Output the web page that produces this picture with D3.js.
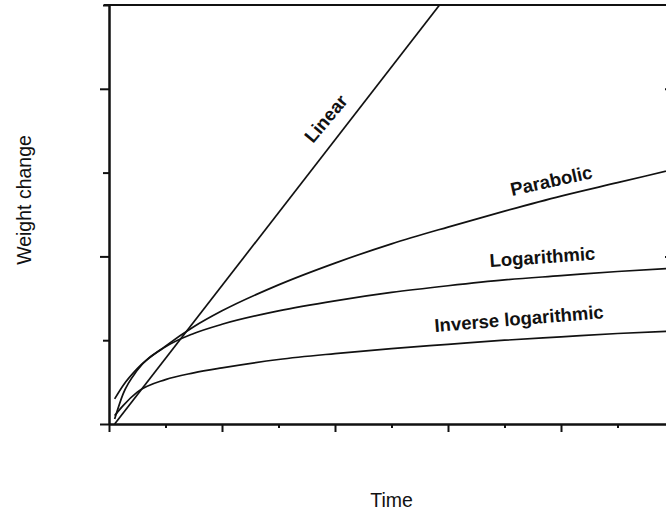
<!DOCTYPE html>
<html>
<head>
<meta charset="utf-8">
<script src="https://cdn.jsdelivr.net/npm/d3@7"></script>
<style>
  body { margin: 0; background: #fff; }
  .axis path, .axis line { stroke: #111; stroke-width: 2; }
  .curve { fill: none; stroke: #111; stroke-width: 1.7; }
  .curve-label { font-family: "Liberation Sans", Arial, sans-serif; font-weight: bold; font-size: 18.5px; fill: #111; }
  .axis-title { font-family: "Liberation Sans", Arial, sans-serif; font-size: 19.5px; fill: #111; }
</style>
</head>
<body>
<div id="chart"></div>
<script>
// Time points (x) shared by the curved series
const times = [0.1, 0.25, 0.5, 1, 1.5, 2, 3, 4, 5, 6, 7, 8, 9, 10];

// Weight change values
const parabolic = [0.30, 0.46, 0.66, 0.93, 1.16, 1.35, 1.66, 1.92, 2.15, 2.35, 2.54, 2.72, 2.88, 3.04];
const logarithmic = [0.06, 0.36, 0.64, 0.92, 1.08, 1.19, 1.35, 1.47, 1.57, 1.65, 1.72, 1.77, 1.82, 1.86];
const inverseLog = [0.10, 0.22, 0.38, 0.53, 0.61, 0.67, 0.77, 0.84, 0.90, 0.95, 1.00, 1.04, 1.08, 1.11];

// The straight line only needs its two ends
const linearTimes = [0.1, 7];
const linear = [0.0, 6.0];

// Tick values (no tick labels in the original)
const xMajorTicks = [0, 2, 4, 6, 8, 10];
const xMinorTicks = [1, 3, 5, 7, 9];
const yMajorTicks = [0, 2, 4];
const yMinorTicks = [1, 3, 5];

const width = 666;
const height = 514;
const margin = { top: 5, right: -8, bottom: 90, left: 109 };

const svg = d3.select('#chart')
  .append('svg')
  .attr('width', width)
  .attr('height', height);

const x = d3.scaleLinear()
  .domain([0, 10])
  .range([margin.left, width - margin.right]);

const y = d3.scaleLinear()
  .domain([0, 5])
  .range([height - margin.bottom, margin.top]);

// Clip curves to the plot box
svg.append('clipPath')
  .attr('id', 'plot-clip')
  .append('rect')
  .attr('x', x(0))
  .attr('y', y(5))
  .attr('width', x(10) - x(0))
  .attr('height', y(0) - y(5));

// Top border of the frame
svg.append('line')
  .attr('x1', x(0) - 5)
  .attr('x2', x(10))
  .attr('y1', y(5))
  .attr('y2', y(5))
  .attr('stroke', '#111')
  .attr('stroke-width', 2);

// Bottom axis: major then minor ticks
svg.append('g')
  .attr('class', 'axis')
  .attr('transform', `translate(0,${y(0)})`)
  .call(d3.axisBottom(x).tickValues(xMajorTicks).tickSize(8).tickSizeOuter(0).tickFormat(''));
svg.append('g')
  .attr('class', 'axis')
  .attr('transform', `translate(0,${y(0)})`)
  .call(d3.axisBottom(x).tickValues(xMinorTicks).tickSize(4).tickSizeOuter(0).tickFormat(''));

// Left axis
svg.append('g')
  .attr('class', 'axis')
  .attr('transform', `translate(${x(0)},0)`)
  .call(d3.axisLeft(y).tickValues(yMajorTicks).tickSize(9).tickSizeOuter(0).tickFormat(''));
svg.append('g')
  .attr('class', 'axis')
  .attr('transform', `translate(${x(0)},0)`)
  .call(d3.axisLeft(y).tickValues(yMinorTicks).tickSize(6).tickSizeOuter(0).tickFormat(''));

// Right side of the frame, ticks pointing inward
svg.append('g')
  .attr('class', 'axis')
  .attr('transform', `translate(${x(10)},0)`)
  .call(d3.axisLeft(y).tickValues([2, 4]).tickSize(9).tickSizeOuter(0).tickFormat(''));

const line = d3.line()
  .x(d => x(d[0]))
  .y(d => y(d[1]))
  .curve(d3.curveMonotoneX);

const series = [
  { name: 'Linear', t: linearTimes, values: linear },
  { name: 'Parabolic', t: times, values: parabolic },
  { name: 'Logarithmic', t: times, values: logarithmic },
  { name: 'Inverse logarithmic', t: times, values: inverseLog }
];

svg.append('g')
  .attr('clip-path', 'url(#plot-clip)')
  .selectAll('path')
  .data(series)
  .join('path')
  .attr('class', 'curve')
  .attr('d', d => line(d3.zip(d.t, d.values)));

// Curve labels, set along each curve
const labels = svg.append('g');
labels.append('text')
  .attr('class', 'curve-label')
  .attr('transform', 'translate(313,144) rotate(-50)')
  .text('Linear');
labels.append('text')
  .attr('class', 'curve-label')
  .attr('transform', 'translate(512,196) rotate(-12.5)')
  .text('Parabolic');
labels.append('text')
  .attr('class', 'curve-label')
  .attr('transform', 'translate(490,267) rotate(-4)')
  .text('Logarithmic');
labels.append('text')
  .attr('class', 'curve-label')
  .attr('transform', 'translate(435,332) rotate(-4.7)')
  .text('Inverse logarithmic');

// Axis titles
svg.append('text')
  .attr('class', 'axis-title')
  .attr('text-anchor', 'middle')
  .attr('transform', 'translate(31,200) rotate(-90)')
  .text('Weight change');

svg.append('text')
  .attr('class', 'axis-title')
  .attr('text-anchor', 'middle')
  .attr('x', (x(0) + x(10)) / 2)
  .attr('y', 507)
  .text('Time');
</script>
</body>
</html>
